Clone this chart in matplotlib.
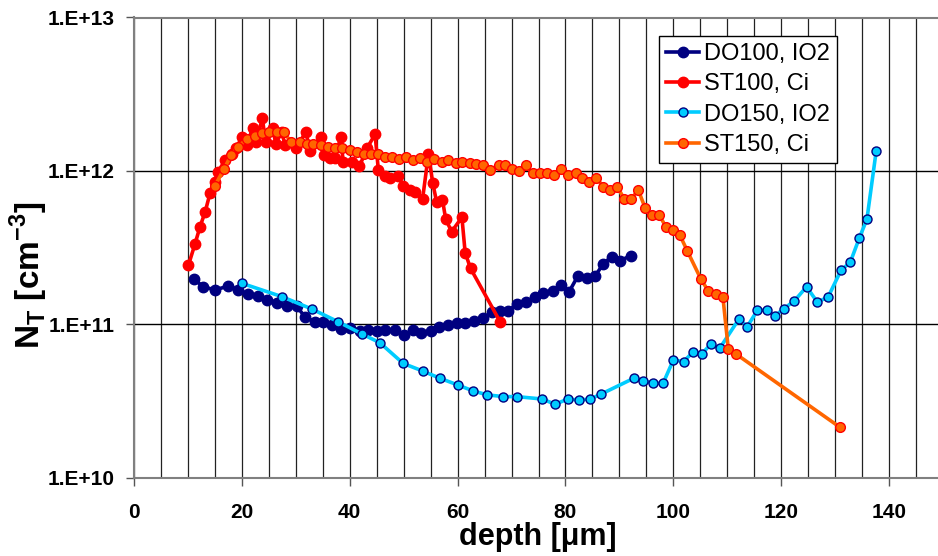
import math
import matplotlib.pyplot as plt
from matplotlib.ticker import MultipleLocator, FixedLocator, FuncFormatter, NullLocator

plt.rcParams['font.family'] = ['Liberation Sans', 'DejaVu Sans']
plt.rcParams['mathtext.fontset'] = 'custom'
plt.rcParams['mathtext.rm'] = 'Liberation Sans'
plt.rcParams['mathtext.bf'] = 'Liberation Sans:bold'

# DO100, IO2
do100_x = [11.1, 12.85, 15.0, 17.5, 19.3, 21.2, 23.0, 24.7, 26.5, 28.3, 30.2, 31.7, 33.6, 35.1,
           36.7, 38.3, 40.0, 41.9, 43.3, 45.0, 46.5, 48.4, 50.1, 51.7, 53.3, 55.0, 56.6, 58.2,
           59.8, 61.4, 63.0, 64.7, 66.4, 67.9, 69.4, 71.0, 72.7, 74.4, 75.9, 77.6, 79.1, 80.7,
           82.3, 83.9, 85.5, 87.0, 88.6, 90.2, 92.1]
do100_y = [1.98e11, 1.76e11, 1.68e11, 1.78e11, 1.69e11, 1.57e11, 1.53e11, 1.45e11, 1.39e11,
           1.32e11, 1.31e11, 1.12e11, 1.04e11, 1.04e11, 9.93e10, 9.31e10, 9.53e10, 9.08e10,
           9.20e10, 9.08e10, 9.20e10, 9.20e10, 8.55e10, 9.20e10, 8.77e10, 9.08e10, 9.68e10,
           9.93e10, 1.02e11, 1.02e11, 1.05e11, 1.10e11, 1.21e11, 1.23e11, 1.23e11, 1.36e11,
           1.41e11, 1.50e11, 1.60e11, 1.65e11, 1.81e11, 1.64e11, 2.07e11, 2.02e11, 2.07e11,
           2.48e11, 2.77e11, 2.61e11, 2.81e11]

# ST100, Ci
st100_x = [10.1, 11.3, 12.25, 13.2, 14.1, 15.0, 15.6, 16.9, 18.1, 19.0, 20.0, 20.9, 22.0, 22.6,
           23.8, 24.4, 25.7, 26.3, 27.4, 28.0, 30.0, 31.9, 32.6, 34.6, 35.2, 36.3, 37.3, 38.3,
           38.8, 40.4, 41.8, 43.2, 44.7, 45.3, 46.5, 47.5, 49.0, 49.9, 51.2, 52.1, 53.5, 54.6,
           55.4, 56.1, 57.2, 57.8, 58.9, 60.8, 61.4, 62.4, 67.9]
st100_y = [2.44e11, 3.34e11, 4.34e11, 5.43e11, 7.16e11, 8.51e11, 9.89e11, 1.18e12, 1.30e12,
           1.41e12, 1.67e12, 1.48e12, 1.90e12, 1.55e12, 2.20e12, 1.55e12, 1.90e12, 1.51e12,
           1.80e12, 1.48e12, 1.41e12, 1.80e12, 1.34e12, 1.66e12, 1.27e12, 1.21e12, 1.21e12,
           1.66e12, 1.15e12, 1.15e12, 1.07e12, 1.41e12, 1.73e12, 1.02e12, 9.27e11, 8.95e11,
           9.27e11, 7.98e11, 7.52e11, 7.33e11, 6.55e11, 1.29e12, 8.32e11, 6.31e11, 6.47e11,
           4.84e11, 4.03e11, 4.99e11, 2.94e11, 2.32e11, 1.04e11]

# DO150, IO2
do150_x = [20.1, 27.4, 33.0, 37.9, 42.3, 45.6, 49.9, 53.5, 56.7, 60.0, 62.9, 65.5, 68.5, 71.0,
           75.7, 78.1, 80.4, 82.5, 84.6, 86.6, 92.7, 94.4, 96.3, 98.1, 100.0, 101.9, 103.6,
           105.3, 106.9, 108.6, 112.2, 113.7, 115.6, 117.3, 118.9, 120.5, 122.4, 124.7, 126.7,
           128.7, 131.1, 132.8, 134.5, 135.9, 137.6]
do150_y = [1.85e11, 1.52e11, 1.26e11, 1.04e11, 8.67e10, 7.60e10, 5.58e10, 4.98e10, 4.47e10,
           4.04e10, 3.69e10, 3.48e10, 3.39e10, 3.39e10, 3.27e10, 3.02e10, 3.27e10, 3.22e10,
           3.27e10, 3.52e10, 4.47e10, 4.29e10, 4.14e10, 4.14e10, 5.87e10, 5.73e10, 6.59e10,
           6.43e10, 7.43e10, 7.00e10, 1.09e11, 9.68e10, 1.24e11, 1.24e11, 1.14e11, 1.27e11,
           1.42e11, 1.76e11, 1.40e11, 1.51e11, 2.26e11, 2.54e11, 3.67e11, 4.86e11, 1.34e12]

# ST150, Ci
st150_x = [15.0, 16.7, 18.0, 19.3, 20.9, 22.4, 23.7, 25.1, 26.5, 27.8, 29.1, 30.7, 32.0, 33.2,
           34.6, 36.0, 37.3, 38.6, 40.1, 41.3, 42.6, 43.9, 45.3, 46.6, 47.8, 49.2, 50.4, 51.8,
           53.0, 54.3, 55.7, 57.1, 58.3, 59.7, 60.9, 62.3, 63.5, 64.8, 66.0, 67.6, 68.8, 70.0,
           71.4, 72.7, 73.9, 75.3, 76.5, 77.9, 79.2, 80.5, 81.9, 83.1, 84.4, 85.7, 87.0, 88.3,
           89.6, 90.9, 92.2, 93.5, 94.8, 96.1, 97.4, 98.6, 100.0, 101.2, 102.6, 105.1, 106.5,
           107.9, 109.2, 110.2, 111.6, 130.9]
st150_y = [8.02e11, 1.03e12, 1.27e12, 1.44e12, 1.61e12, 1.70e12, 1.76e12, 1.80e12, 1.80e12,
           1.80e12, 1.54e12, 1.54e12, 1.51e12, 1.50e12, 1.48e12, 1.44e12, 1.41e12, 1.41e12,
           1.37e12, 1.32e12, 1.29e12, 1.29e12, 1.29e12, 1.24e12, 1.23e12, 1.19e12, 1.23e12,
           1.18e12, 1.21e12, 1.15e12, 1.20e12, 1.15e12, 1.18e12, 1.12e12, 1.15e12, 1.12e12,
           1.11e12, 1.09e12, 1.02e12, 1.09e12, 1.09e12, 1.03e12, 1.00e12, 1.09e12, 9.66e11,
           9.66e11, 9.66e11, 9.42e11, 1.03e12, 9.42e11, 9.75e11, 8.95e11, 8.51e11, 9.04e11,
           7.91e11, 7.52e11, 7.91e11, 6.58e11, 6.58e11, 7.52e11, 5.71e11, 5.16e11, 5.16e11,
           4.34e11, 4.13e11, 3.83e11, 3.01e11, 1.98e11, 1.65e11, 1.57e11, 1.50e11, 6.89e10,
           6.43e10, 2.14e10]

fig = plt.figure(figsize=(9.38, 5.56), dpi=100)
# right end (150) lies just past the picture edge, as in the original
ax = fig.add_axes([134 / 938, 1 - 478 / 556, 809 / 938, 460.5 / 556])

ax.plot(do100_x, do100_y, '-o', color='#000080', lw=2.6, ms=7.5, mfc='#000080', mec='#000080',
        label='DO100, IO2', zorder=3)
ax.plot(st100_x, st100_y, '-o', color='#ff0000', lw=2.6, ms=7.5, mfc='#ff0000', mec='#ff0000',
        label='ST100, Ci', zorder=4)
ax.plot(do150_x, do150_y, '-o', color='#00ccff', lw=2.6, ms=6.5, mfc='#00ccff', mec='#000080',
        mew=1, label='DO150, IO2', zorder=3)
ax.plot(st150_x, st150_y, '-o', color='#ff6600', lw=2.6, ms=7, mfc='#ff6600', mec='#ff0000',
        mew=1, label='ST150, Ci', zorder=5)

ax.set_yscale('log')
ax.set_ylim(1e10, 1e13)
ax.set_xlim(0, 150)

ax.xaxis.set_major_locator(MultipleLocator(20))
ax.xaxis.set_minor_locator(MultipleLocator(5))
ax.yaxis.set_major_locator(FixedLocator([1e10, 1e11, 1e12, 1e13]))
ax.yaxis.set_minor_locator(NullLocator())
ax.yaxis.set_major_formatter(FuncFormatter(lambda v, p: '1.E+%d' % round(math.log10(v))))

ax.grid(True, which='minor', axis='x', color='#222222', lw=0.9)
ax.grid(True, which='major', axis='x', color='#222222', lw=0.9)
ax.grid(True, which='major', axis='y', color='#000000', lw=1.0)
ax.set_axisbelow(True)

ax.tick_params(axis='both', which='major', direction='out', length=6, width=1, color='#555555',
               labelsize=15)
ax.tick_params(axis='x', which='major', pad=12)
ax.tick_params(axis='y', which='major', pad=8)
ax.tick_params(axis='x', which='minor', length=0)
for lab in ax.get_xticklabels() + ax.get_yticklabels():
    lab.set_fontweight('bold')

for s in ['left', 'bottom', 'top']:
    ax.spines[s].set_color('#808080')
    ax.spines[s].set_linewidth(1.5)
ax.spines['right'].set_visible(False)

ax.set_xlabel('depth [μm]', fontsize=22, fontweight='bold')
ax.set_ylabel(r'N$_\mathbf{T}$ [cm$^\mathbf{-3}$]', fontsize=24, fontweight='bold')
ax.xaxis.set_label_coords((538 - 134) / 809, -0.095)
ax.yaxis.set_label_coords(-0.104, 0.44)

leg = ax.legend(loc='upper left', bbox_to_anchor=(0.649, 0.96), borderaxespad=0, fontsize=17,
                fancybox=False, edgecolor='black', framealpha=1, handlelength=1.4,
                handletextpad=0.2, borderpad=0.3, labelspacing=0.35)
leg.get_frame().set_linewidth(1)

fig.savefig('out.png', dpi=100)
